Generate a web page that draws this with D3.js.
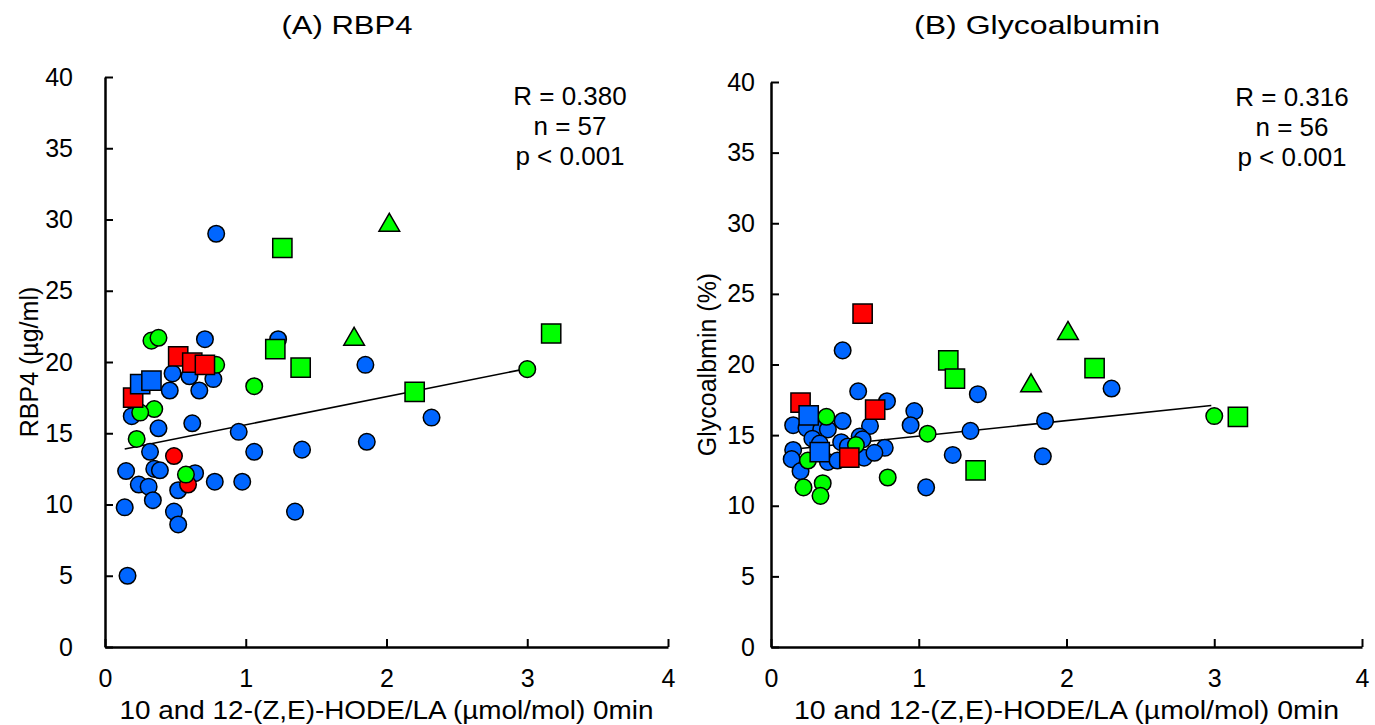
<!DOCTYPE html>
<html>
<head>
<meta charset="utf-8">
<script src="https://cdn.jsdelivr.net/npm/d3@7"></script>
<style>
  body { margin: 0; background: #fff; }
  text { font-family: Arial, "Liberation Sans", sans-serif; fill: #000; }
</style>
</head>
<body>
<svg id="chart" width="1375" height="725"></svg>
<script>
// ---- data: [x, y] ----
// x = 10 and 12-(Z,E)-HODE/LA (umol/mol) 0min
var xTicks = [0, 1, 2, 3, 4];
var yTicks = [0, 5, 10, 15, 20, 25, 30, 35, 40];

// (A) RBP4
var rbpBlueCircle = [[0.79, 29.0], [0.71, 21.6], [1.23, 21.6], [0.48, 19.2], [0.60, 19.0], [0.77, 18.8],
  [0.46, 18.0], [0.67, 18.0], [0.19, 16.2], [0.38, 15.35], [0.62, 15.7], [0.95, 15.1], [0.32, 13.7],
  [1.06, 13.7], [1.40, 13.85], [0.15, 12.35], [0.35, 12.5], [0.39, 12.4], [0.64, 12.2], [0.52, 11.0],
  [0.24, 11.4], [0.31, 11.25], [0.78, 11.6], [0.975, 11.6], [0.34, 10.3], [0.14, 9.8], [0.49, 9.5],
  [0.52, 8.6], [1.35, 9.5], [0.16, 5.0], [1.85, 19.8], [2.32, 16.1], [1.86, 14.4]];
var rbpRedCircle = [[0.49, 13.4], [0.59, 11.4]];
var rbpGreenCircle = [[0.33, 21.5], [0.38, 21.7], [0.79, 19.8], [1.06, 18.3], [0.35, 16.7], [0.25, 16.45],
  [0.225, 14.6], [0.575, 12.1], [3.0, 19.5]];
var rbpGreenTriangle = [[2.02, 29.6], [1.77, 21.6]];
var rbpGreenSquare = [[1.26, 28.0], [1.21, 20.9], [1.39, 19.6], [2.20, 17.9], [3.17, 22.0]];
var rbpRedSquare = [[0.52, 20.4], [0.62, 19.95], [0.71, 19.8], [0.20, 17.5]];
var rbpBlueSquare = [[0.25, 18.45], [0.33, 18.7]];
var rbpFit = [[0.14, 13.9], [2.98, 19.5]];
var rbpStats = ["R = 0.380", "n = 57", "p < 0.001"];

// (B) Glycoalbumin
var gaBlueCircle = [[0.485, 21.0], [0.59, 18.1], [0.785, 17.4], [0.485, 16.0], [0.97, 16.7], [0.945, 15.7],
  [0.15, 15.7], [0.24, 15.5], [0.34, 15.4], [0.385, 15.4], [0.67, 15.65], [0.28, 14.75], [0.60, 14.9],
  [0.62, 14.7], [0.475, 14.5], [0.33, 14.4], [0.52, 14.2], [0.15, 13.95], [0.77, 14.1], [0.14, 13.3],
  [0.385, 13.1], [0.45, 13.2], [0.63, 13.4], [0.70, 13.75], [0.20, 12.45], [1.05, 11.3], [1.23, 13.6],
  [2.305, 18.3], [1.40, 17.9], [1.855, 16.0], [1.35, 15.3], [1.84, 13.5]];
var gaRedCircle = [];
var gaGreenCircle = [[0.375, 16.3], [1.06, 15.1], [0.575, 14.3], [0.25, 13.2], [0.22, 11.3], [0.35, 11.6],
  [0.335, 10.7], [0.79, 12.0], [3.0, 16.35]];
var gaGreenTriangle = [[2.01, 22.2], [1.76, 18.5]];
var gaGreenSquare = [[1.20, 20.3], [1.245, 19.0], [2.19, 19.75], [1.385, 12.5], [3.16, 16.3]];
var gaRedSquare = [[0.62, 23.6], [0.20, 17.3], [0.705, 16.8], [0.53, 13.4]];
var gaBlueSquare = [[0.255, 16.4], [0.33, 13.8]];
var gaFit = [[0.15, 14.0], [2.98, 17.1]];
var gaStats = ["R = 0.316", "n = 56", "p < 0.001"];

var xLabel = "10 and 12-(Z,E)-HODE/LA (\u00b5mol/mol) 0min";

// ---- styling / layout ----
var blue = "#0066ff", green = "#00ff00", red = "#ff0000";

var panels = [
  { title: "(A) RBP4", titleW: 131, yLabel: "RBP4 (\u00b5g/ml)", left: 105, right: 668, top: 77, bottom: 647,
    titleX: 347, yLabelX: 29, yPad: 32, statsX: 570, statsY: 105, xLabelW: 534,
    groups: [rbpBlueCircle, rbpRedCircle, rbpGreenCircle, rbpGreenTriangle, rbpGreenSquare, rbpRedSquare, rbpBlueSquare],
    fit: rbpFit, stats: rbpStats },
  { title: "(B) Glycoalbumin", titleW: 246, yLabel: "Glycoalbmin (%)", left: 771, right: 1362, top: 82, bottom: 647,
    titleX: 1037, yLabelX: 707, yPad: 16, statsX: 1292, statsY: 106, xLabelW: 545,
    groups: [gaBlueCircle, gaRedCircle, gaGreenCircle, gaGreenTriangle, gaGreenSquare, gaRedSquare, gaBlueSquare],
    fit: gaFit, stats: gaStats }
];
// same order as panel.groups
var groupStyle = [
  { color: blue, shape: d3.symbolCircle, size: 215 },
  { color: red, shape: d3.symbolCircle, size: 215 },
  { color: green, shape: d3.symbolCircle, size: 215 },
  { color: green, shape: d3.symbolTriangle, size: 185 },
  { color: green, shape: d3.symbolSquare, size: 370 },
  { color: red, shape: d3.symbolSquare, size: 370 },
  { color: blue, shape: d3.symbolSquare, size: 370 }
];

var svg = d3.select("#chart");

panels.forEach(function (p) {
  var x = d3.scaleLinear().domain([0, 4]).range([p.left, p.right]);
  var y = d3.scaleLinear().domain([0, 40]).range([p.bottom, p.top]);
  var g = svg.append("g");

  // title
  g.append("text")
    .attr("x", p.titleX).attr("y", 34)
    .attr("text-anchor", "middle")
    .attr("font-size", 26)
    .attr("textLength", p.titleW)
    .attr("lengthAdjust", "spacingAndGlyphs")
    .text(p.title);

  // axes, ticks pointing inwards
  var xAxis = g.append("g")
    .attr("transform", "translate(0," + p.bottom + ")")
    .call(d3.axisBottom(x).tickValues(xTicks).tickSizeInner(-8).tickSizeOuter(0).tickPadding(22)
      .tickFormat(d3.format("d")));
  var yAxis = g.append("g")
    .attr("transform", "translate(" + p.left + ",0)")
    .call(d3.axisLeft(y).tickValues(yTicks).tickSizeInner(-8).tickSizeOuter(0).tickPadding(p.yPad)
      .tickFormat(d3.format("d")));
  [xAxis, yAxis].forEach(function (a) {
    a.select(".domain").attr("stroke", "#000").attr("stroke-width", 2.5);
    a.selectAll(".tick line").attr("stroke", "#000").attr("stroke-width", 2);
    a.selectAll(".tick text").attr("font-size", 25).attr("font-family", "Arial, 'Liberation Sans', sans-serif");
  });

  // axis titles
  g.append("text")
    .attr("x", (p.left + p.right) / 2).attr("y", 719)
    .attr("text-anchor", "middle")
    .attr("font-size", 25)
    .attr("textLength", p.xLabelW)
    .attr("lengthAdjust", "spacingAndGlyphs")
    .text(xLabel);
  g.append("text")
    .attr("transform", "translate(" + p.yLabelX + "," + ((p.top + p.bottom) / 2) + ") rotate(-90)")
    .attr("text-anchor", "middle")
    .attr("dy", "0.35em")
    .attr("font-size", 25)
    .text(p.yLabel);

  // regression line
  g.append("line")
    .attr("x1", x(p.fit[0][0])).attr("y1", y(p.fit[0][1]))
    .attr("x2", x(p.fit[1][0])).attr("y2", y(p.fit[1][1]))
    .attr("stroke", "#000").attr("stroke-width", 1.6);

  // markers, group by group
  p.groups.forEach(function (pts, k) {
    var st = groupStyle[k];
    g.append("g").selectAll("path")
      .data(pts)
      .enter()
      .append("path")
      .attr("d", d3.symbol().type(st.shape).size(st.size))
      .attr("transform", function (d) { return "translate(" + x(d[0]) + "," + y(d[1]) + ")"; })
      .attr("fill", st.color)
      .attr("stroke", "#000")
      .attr("stroke-width", 1.5);
  });

  // stats box
  g.append("g").selectAll("text")
    .data(p.stats)
    .enter()
    .append("text")
    .attr("x", p.statsX)
    .attr("y", function (d, i) { return p.statsY + i * 30; })
    .attr("text-anchor", "middle")
    .attr("font-size", 26)
    .text(function (d) { return d; });
});
</script>
</body>
</html>
